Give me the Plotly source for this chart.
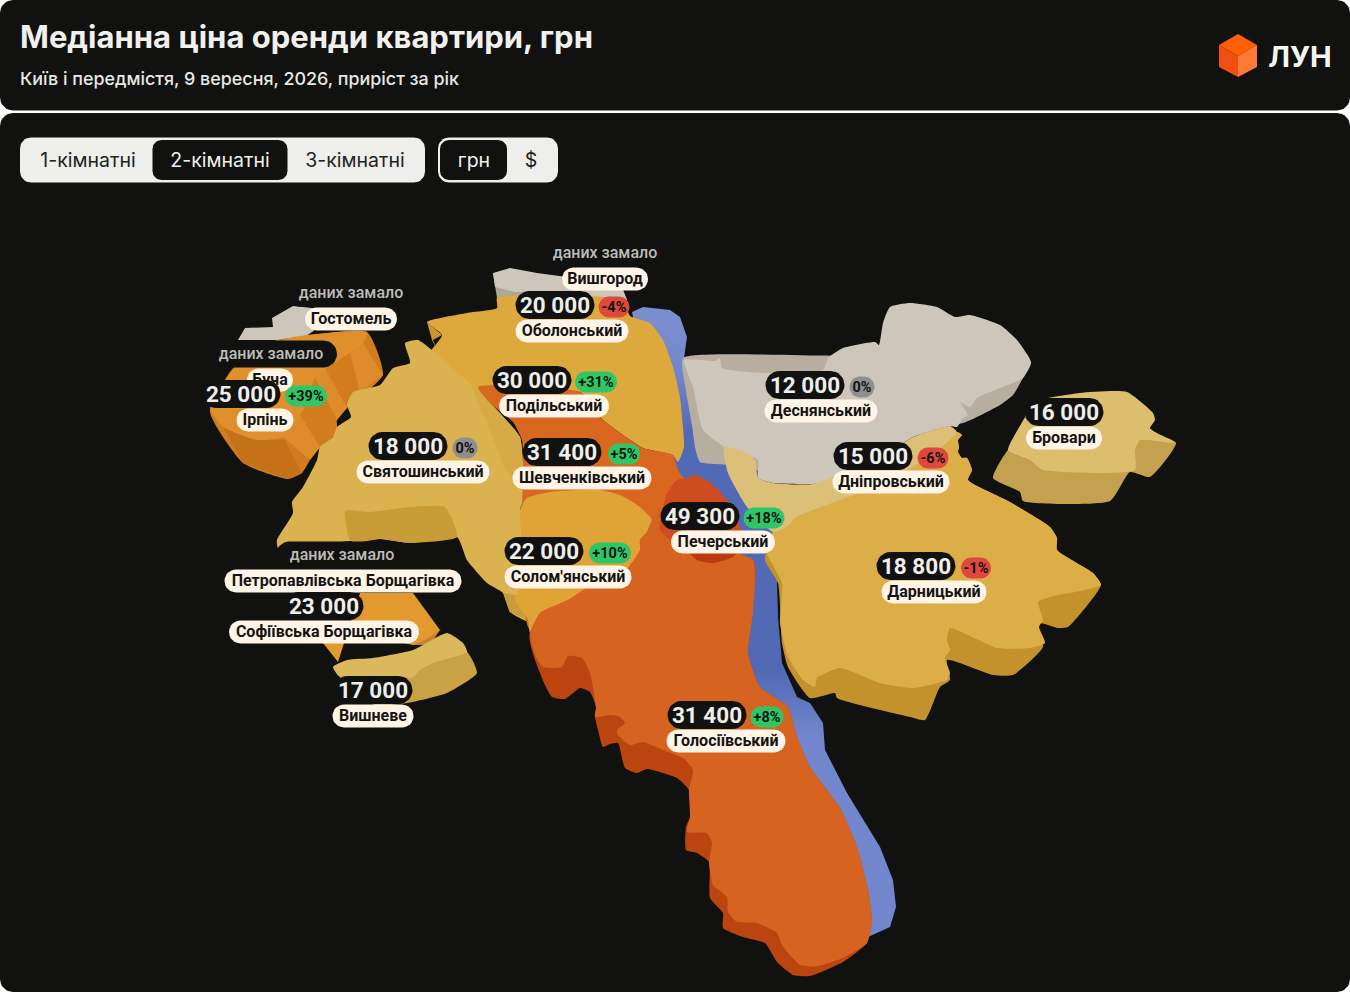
import numpy as np
import plotly.graph_objects as go

# district data (None = "даних замало")
NAMES = ["Вишгород", "Гостомель", "Буча", "Ірпінь", "Оболонський", "Подільський",
         "Святошинський", "Шевченківський", "Солом'янський", "Печерський", "Деснянський",
         "Дніпровський", "Дарницький", "Бровари", "Голосіївський",
         "Петропавлівська Борщагівка", "Софіївська Борщагівка", "Вишневе"]
PRICES = [None, None, None, 25000, 20000, 30000, 18000, 31400, 22000, 49300, 12000,
          15000, 18800, 16000, 31400, None, 23000, 17000]
CHANGES = [None, None, None, 39, -4, 31, 0, 5, 10, 18, 0, -6, -1, None, 8, None, None, None]
TABS_ROOMS = ["1-кімнатні", "2-кімнатні", "3-кімнатні"]
TABS_CURRENCY = ["грн", "$"]

# where the labels sit: centre of the name pill and its width
LABEL_X = [605, 351, 270, 265, 572, 554, 423, 582, 568, 723, 821, 891, 934, 1064, 726, 343, 324, 373]
LABEL_Y = [279, 319, 380, 420, 331, 406, 472, 478, 577, 542, 411, 482, 592, 438, 741, 581, 632, 716]
LABEL_W = [86, 92, 46, 57, 113, 110, 133, 139, 127, 104, 113, 117, 105, 76, 119, 237, 190, 81]
VALUE_X = [605, 351, 271, 241, 555, 532, 408, 562, 544, 700, 805, 873, 916, 1064, 707, 342, 324, 373]
CHANGE_X = [0, 0, 0, 306, 614, 596, 465, 624, 610, 764, 862, 933, 976, 0, 767, 0, 0, 0]
CHANGE_W = [0, 0, 0, 42, 31, 42, 25, 32, 42, 41, 25, 31, 30, 0, 33, 0, 0, 0]

# district outlines, (x, y) in page pixels
RIVER = [(632, 312), (643, 307), (670, 310), (680, 317), (687, 337), (684, 358), (710, 400), (760, 470), (790, 560),
         (777, 583), (778, 617), (782, 663), (797, 697), (810, 703), (823, 723), (825, 750), (847, 793),
         (880, 847), (893, 880), (896, 907), (890, 927), (868, 937), (840, 900), (700, 600), (650, 400)]
GOSTOMEL = [(238, 340), (245, 328), (273, 327), (272, 318), (293, 306), (312, 308), (330, 320), (300, 340)]
VYSHHOROD_WALL = [(493, 273), (497, 298), (515, 297), (590, 297), (627, 300), (623, 290), (537, 285)]
VYSHHOROD_TOP = [(493, 273), (510, 268), (537, 273), (567, 277), (623, 290), (627, 300), (590, 297),
                 (540, 292), (515, 292), (495, 287)]
IRPIN_WALL = [(290, 338), (367, 332), (383, 375), (347, 408), (337, 420), (337, 433), (318, 450), (310, 460),
              (302, 473), (288, 479), (243, 463), (210, 412), (233, 368), (277, 340)]
IRPIN_TOP = [(290, 338), (367, 332), (363, 343), (327, 368), (315, 378), (305, 407), (283, 437), (257, 440),
             (223, 427), (210, 408), (233, 370)]
IRPIN_DARK = [(223, 427), (243, 463), (288, 479), (302, 473), (285, 440), (257, 440)]
IRPIN_STRIP_1 = [(350, 353), (363, 343), (383, 375), (360, 392)]
IRPIN_STRIP_2 = [(315, 378), (325, 368), (347, 408), (337, 420)]
IRPIN_STRIP_3 = [(283, 437), (300, 415), (320, 447), (310, 460)]
SOFIIVSKA_WALL = [(413, 630), (440, 630), (430, 645), (413, 645)]
SOFIIVSKA_TOP = [(360, 593), (413, 593), (440, 630), (425, 640), (413, 645), (390, 640), (323, 643), (338, 662)]
VYSHNEVE_WALL = [(467, 652), (477, 673), (447, 693), (407, 703), (375, 705), (340, 677), (380, 660), (433, 650)]
VYSHNEVE_TOP = [(333, 667), (347, 660), (373, 658), (413, 650), (447, 633), (463, 643), (467, 652), (433, 663),
                (420, 670), (413, 677), (340, 677)]
SVIATOSHYN_WALL = [(345, 511), (370, 512), (410, 507), (445, 507), (457, 537), (410, 543), (380, 539),
                   (355, 543), (350, 540)]
SVIATOSHYN = [(405, 343), (418, 340), (432, 350), (477, 390), (497, 410), (520, 437), (523, 463), (527, 493),
              (520, 510), (535, 600), (533, 623), (510, 612), (503, 593), (487, 583), (467, 560), (457, 537),
              (410, 543), (380, 539), (350, 541), (278, 548), (277, 540), (293, 513), (292, 502), (303, 487),
              (317, 460), (320, 447), (333, 437), (337, 427), (351, 417), (347, 405), (353, 392), (380, 385),
              (393, 368), (410, 363)]
SVIATOSHYN_SHADE = [(472, 386), (497, 410), (520, 437), (523, 463), (527, 493), (506, 470), (490, 430)]
WEDGE = [(510, 612), (533, 623), (527, 597), (503, 593)]
OBOLON = [(427, 322), (467, 313), (497, 308), (497, 298), (540, 295), (623, 300), (630, 316), (650, 323),
          (663, 340), (673, 367), (680, 397), (683, 427), (684, 447), (678, 462), (673, 455), (643, 448),
          (603, 420), (580, 392), (490, 400), (450, 385), (425, 360), (442, 335)]
OBOLON_NOTCH = [(427, 322), (442, 335), (433, 340), (437, 350), (432, 340)]
CENTRE = [(478, 387), (580, 392), (603, 420), (643, 448), (673, 455), (678, 470), (683, 477), (700, 500),
          (720, 620), (640, 640), (530, 630), (523, 460), (522, 440), (513, 422), (490, 403)]
SOLOMIANKA = [(550, 492), (600, 490), (620, 495), (640, 507), (652, 520), (647, 532), (640, 540), (640, 550),
              (628, 568), (607, 587), (587, 588), (568, 600), (540, 613), (530, 633), (528, 620), (515, 600),
              (525, 575), (520, 510), (527, 498)]
HOLOSIIV_WALL = [(753, 560), (748, 653), (760, 687), (788, 707), (797, 737), (810, 767), (840, 808), (857, 847),
                 (868, 890), (872, 920), (867, 943), (843, 962), (810, 976), (793, 975), (777, 962), (765, 943),
                 (743, 937), (723, 928), (723, 913), (710, 898), (709, 862), (697, 853), (686, 850), (686, 827),
                 (690, 817), (689, 790), (677, 778), (647, 769), (637, 773), (625, 768), (618, 743), (610, 744),
                 (603, 747), (598, 730), (595, 717), (596, 707), (590, 692), (580, 688), (565, 699), (552, 697),
                 (545, 685), (530, 633)]
HOLOSIIV_TOP = [(540, 613), (568, 600), (587, 588), (607, 587), (628, 568), (640, 550), (640, 540), (647, 532),
                (652, 520), (670, 500), (700, 540), (753, 560), (755, 580), (753, 613), (748, 653), (760, 687),
                (788, 707), (797, 737), (810, 767), (840, 808), (857, 847), (868, 890), (872, 920), (867, 943),
                (843, 958), (818, 966), (800, 965), (782, 945), (777, 933), (757, 923), (737, 922), (728, 912),
                (727, 897), (713, 885), (709, 862), (712, 843), (707, 833), (687, 832), (690, 817), (689, 790),
                (693, 770), (683, 758), (663, 750), (643, 742), (630, 745), (618, 735), (617, 730), (625, 723),
                (620, 717), (610, 715), (595, 717), (596, 707), (590, 673), (582, 658), (568, 656),
                (562, 667), (543, 667), (535, 655), (530, 633)]
PECHERSK_WALL = [(683, 545), (747, 540), (733, 557), (713, 563), (697, 560)]
PECHERSK_TOP = [(667, 493), (677, 480), (687, 478), (693, 475), (703, 478), (713, 485), (733, 507), (740, 527),
                (747, 540), (733, 548), (683, 548), (660, 530)]
DESNA_WALL = [(683, 358), (685, 385), (692, 425), (695, 447), (700, 462), (730, 465), (760, 470), (780, 450),
              (963, 423), (1000, 405), (1013, 395), (1023, 378), (1031, 362), (890, 333), (879, 345), (850, 355)]
DESNA_TOP = [(684, 360), (715, 361), (720, 358), (722, 368), (767, 373), (823, 370), (828, 358), (843, 348),
             (875, 342), (879, 345), (883, 323), (890, 307), (910, 303), (937, 307), (955, 317), (970, 315),
             (1000, 325), (1017, 340), (1031, 362), (1023, 378), (977, 398), (970, 407), (960, 402), (968, 415),
             (963, 418), (957, 427), (950, 426), (913, 437), (893, 450), (830, 480), (813, 484), (773, 483),
             (758, 478), (758, 460), (725, 447), (703, 430), (693, 387)]
DNIPRO = [(724, 447), (747, 453), (755, 460), (758, 478), (773, 483), (813, 484), (893, 450), (913, 437),
          (950, 426), (957, 432), (947, 443), (913, 467), (857, 494), (797, 517), (787, 527), (773, 532),
          (747, 507), (728, 473)]
DARNYTSIA_WALL = [(957, 432), (962, 435), (958, 440), (959, 447), (958, 452), (962, 458), (967, 458), (972, 470),
                  (968, 480), (1010, 502), (1050, 527), (1057, 538), (1057, 550), (1093, 573), (1101, 585),
                  (1068, 627), (1058, 628), (1038, 623), (1043, 647), (1013, 675), (993, 675), (947, 660),
                  (950, 680), (940, 687), (925, 720), (910, 717), (837, 698), (835, 693), (810, 698), (788, 667),
                  (782, 643), (778, 583), (765, 560), (773, 532)]
DARNYTSIA_TOP = [(957, 432), (962, 435), (958, 440), (959, 447), (958, 452), (962, 458), (967, 458), (972, 470),
                 (968, 480), (1010, 502), (1050, 527), (1057, 538), (1057, 550), (1093, 573), (1101, 585),
                 (1050, 597), (1038, 602), (1043, 620), (1039, 627), (1045, 643), (1030, 648), (997, 648),
                 (950, 628), (947, 640), (950, 650), (945, 658), (950, 673), (947, 680), (913, 688), (880, 683),
                 (840, 668), (817, 678), (815, 687), (803, 680), (788, 657), (780, 623), (782, 583), (767, 553),
                 (773, 532), (787, 527), (797, 517), (857, 494), (913, 467), (947, 443)]
BROVARY_WALL = [(1008, 450), (993, 478), (1020, 492), (1023, 501), (1110, 501), (1130, 472), (1150, 477), (1176, 443),
                (1140, 430), (1040, 430)]
BROVARY_TOP = [(1025, 417), (1030, 403), (1080, 393), (1127, 392), (1153, 413), (1155, 420), (1150, 428), (1155, 432),
               (1176, 443), (1140, 440), (1135, 450), (1135, 470), (1043, 470), (1030, 460), (1008, 450)]
CUBE_TOP = [(1219, 45), (1238, 34), (1257, 45), (1238, 56)]
CUBE_LEFT = [(1219, 45), (1238, 56), (1238, 77), (1219, 67)]
CUBE_RIGHT = [(1238, 56), (1257, 45), (1257, 67), (1238, 77)]

BG = "#111110"
LIGHT = "#eeeeea"
CREAM = "#fff4e6"

fig = go.Figure()


def add_poly(pts, color, smooth=False):
    xs, ys = zip(*pts)
    line = dict(width=0, color=color)
    if smooth:
        line.update(shape="spline", smoothing=0.5)
    fig.add_trace(go.Scatter(x=xs + xs[:1], y=ys + ys[:1], mode="lines", fill="toself", fillcolor=color,
                             line=line, hoverinfo="skip", showlegend=False))


def pill(cx, cy, w, h, color, r=None):
    # rounded rectangle as a closed outline
    r = h / 2 if r is None else r
    x0, x1, y0, y1 = cx - w / 2, cx + w / 2, cy - h / 2, cy + h / 2
    xs, ys = [], []
    corners = [(x1 - r, y0 + r, -90), (x1 - r, y1 - r, 0), (x0 + r, y1 - r, 90), (x0 + r, y0 + r, 180)]
    for ox, oy, a in corners:
        t = np.radians(np.linspace(a, a + 90, 9))
        xs += list(ox + r * np.cos(t))
        ys += list(oy + r * np.sin(t))
    add_poly(list(zip(xs, ys)), color)


def add_text(x, y, s, size, color, weight=700, family="Roboto", pos="middle center"):
    fig.add_trace(go.Scatter(x=[x], y=[y], mode="text", text=[s], textposition=pos, hoverinfo="skip",
                             textfont=dict(size=size, color=color, weight=weight, family=family),
                             showlegend=False))


# cards on the white page
pill(675, 55.25, 1350, 110.5, BG, r=13)
pill(675, 552.5, 1350, 879, BG, r=13)

# header
add_text(20, 40, "Медіанна ціна оренди квартири, грн", 31, "#f0f0ec", 700, "Inter", "middle right")
add_text(20, 81, "Київ і передмістя, 9 вересня, 2026, приріст за рік", 17.9, "#e8e8e4", 500, "Inter", "middle right")
add_poly(CUBE_TOP, "#ff6000")
add_poly(CUBE_LEFT, "#f04f10")
add_poly(CUBE_RIGHT, "#ff7a38")
add_text(1300, 59.5, "ЛУН", 29, "#f5f5f2", 700, "Inter")

# switches
pill(222.5, 160, 405, 45, LIGHT, r=11)
pill(220, 160, 135, 40, BG, r=9)
pill(498, 160, 120, 45, LIGHT, r=11)
pill(473.5, 160, 67, 40, BG, r=9)
for s, x, c in zip(TABS_ROOMS, [88, 220, 355], ["#222222", "#f0f0ec", "#222222"]):
    add_text(x, 162, s, 19.5, c, 400, "Inter")
for s, x, c in zip(TABS_CURRENCY, [474, 531], ["#f0f0ec", "#222222"]):
    add_text(x, 162, s, 19.5, c, 400, "Inter")

# river, lighter at both ends
xs, ys = zip(*RIVER)
fig.add_trace(go.Scatter(x=xs, y=ys, mode="lines", fill="toself", line=dict(width=0), hoverinfo="skip", showlegend=False,
                         fillgradient=dict(type="vertical", start=307, stop=937,
                                           colorscale=[[0, "#7b8fd0"], [0.1, "#7387cc"], [0.2, "#5269b5"],
                                                       [0.58, "#5269b5"], [0.68, "#7186cc"], [1, "#7186cc"]])))

# map, back to front
add_poly(GOSTOMEL, "#cdc6ba")
add_poly(IRPIN_WALL, "#d27c1e", True)
add_poly(IRPIN_DARK, "#c5711a")
add_poly(IRPIN_STRIP_1, "#de8c2b")
add_poly(IRPIN_STRIP_2, "#de8c2b")
add_poly(IRPIN_STRIP_3, "#de8c2b")
add_poly(IRPIN_TOP, "#e08f2d", True)
add_poly(VYSHHOROD_WALL, "#b0a797")
add_poly(VYSHHOROD_TOP, "#cdc6ba")
add_poly(SOFIIVSKA_WALL, "#c7822a")
add_poly(SOFIIVSKA_TOP, "#e29a2e")
add_poly(VYSHNEVE_WALL, "#c9a245", True)
add_poly(VYSHNEVE_TOP, "#dcb85c", True)
add_poly(OBOLON, "#dda93c", True)
add_poly(OBOLON_NOTCH, "#c9962f")
add_poly(SVIATOSHYN, "#dab24f", True)
add_poly(SVIATOSHYN_SHADE, "#d6aa45", True)
add_poly(SVIATOSHYN_WALL, "#c89c36", True)
add_poly(WEDGE, "#c99d38")
add_poly(CENTRE, "#da6720", True)
add_poly(SOLOMIANKA, "#e0a336", True)
add_poly(HOLOSIIV_WALL, "#bc450f", True)
add_poly(HOLOSIIV_TOP, "#d66320", True)
add_poly(PECHERSK_WALL, "#bb3a10", True)
add_poly(PECHERSK_TOP, "#cf4c1f", True)
add_poly(DESNA_WALL, "#b8ae9f", True)
add_poly(DESNA_TOP, "#cdc6ba", True)
add_poly(DARNYTSIA_WALL, "#c4922a", True)
add_poly(DARNYTSIA_TOP, "#dcae48", True)
add_poly(DNIPRO, "#dcc078", True)
add_poly(BROVARY_WALL, "#c4a14f", True)
add_poly(BROVARY_TOP, "#dcbe6e", True)

# labels, in reading order so later pills cover earlier ones
for i, name in enumerate(NAMES):
    lx, ly, lw = LABEL_X[i], LABEL_Y[i], LABEL_W[i]
    if PRICES[i] is None:
        pill(VALUE_X[i], ly - 26, 132, 27, BG)
        add_text(VALUE_X[i], ly - 25, "даних замало", 16, "#bdbdb8", 500)
    pill(lx, ly, lw, 23, CREAM)
    add_text(lx, ly + 1, name, 16, "#141414", 700)
for i, name in enumerate(NAMES):
    if PRICES[i] is None:
        continue
    lx, ly = LABEL_X[i], LABEL_Y[i]
    pill(VALUE_X[i], ly - 26, 79, 28, BG)
    add_text(VALUE_X[i], ly - 24, f"{PRICES[i]:,}".replace(",", " "), 22.5, "#eeeeea", 700)
    if CHANGES[i] is not None:
        c = CHANGES[i]
        col = "#2fc766" if c > 0 else ("#e0483b" if c < 0 else "#8f8f8f")
        pill(CHANGE_X[i], ly - 24, CHANGE_W[i], 21, col)
        add_text(CHANGE_X[i], ly - 23, f"{c:+d}%" if c else "0%", 14.5, "#141414", 700)

fig.update_xaxes(range=[0, 1350], visible=False, fixedrange=True)
fig.update_yaxes(range=[992, 0], visible=False, fixedrange=True)
fig.update_layout(width=1350, height=992, margin=dict(l=0, r=0, t=0, b=0), paper_bgcolor="#ffffff",
                  plot_bgcolor="rgba(0,0,0,0)", showlegend=False)
fig.write_html("out.html", config={"displayModeBar": False},
               post_script="document.body.style.margin='0';document.body.style.overflow='hidden';")
